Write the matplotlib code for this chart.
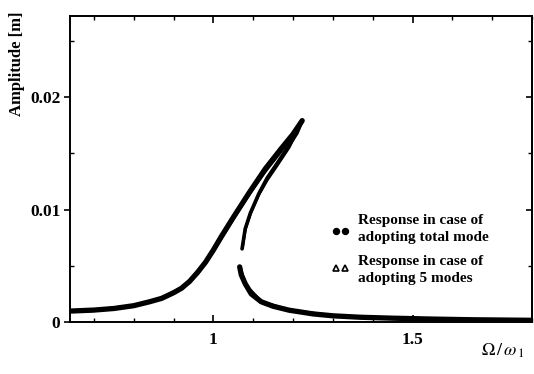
import matplotlib
matplotlib.use("Agg")
import matplotlib.pyplot as plt
from matplotlib.ticker import MultipleLocator, FixedLocator

# ---- data ----
# stable upper branch (total mode)
up_x = [0.64, 0.70, 0.75, 0.80, 0.84, 0.87, 0.90, 0.92, 0.94, 0.96, 0.98,
        1.00, 1.02, 1.05, 1.09, 1.13, 1.17, 1.20, 1.223]
up_y = [0.00097, 0.00106, 0.0012, 0.00145, 0.0018, 0.0021, 0.0026, 0.0030,
        0.0036, 0.0044, 0.0053, 0.0064, 0.0076, 0.0093, 0.0115, 0.0136,
        0.0154, 0.0167, 0.0179]
# unstable branch (total mode)
mid_x = [1.223, 1.21, 1.19, 1.16, 1.135, 1.114, 1.093, 1.08, 1.072]
mid_y = [0.0179, 0.0168, 0.0157, 0.0141, 0.0128, 0.0114, 0.0097, 0.0083, 0.0065]
# lower stable branch (total mode)
low_x = [1.066, 1.07, 1.08, 1.095, 1.12, 1.15, 1.19, 1.25, 1.30, 1.37,
         1.45, 1.55, 1.65, 1.80]
low_y = [0.0049, 0.0042, 0.0034, 0.0025, 0.0018, 0.0014, 0.00105, 0.00072,
         0.00055, 0.00042, 0.00034, 0.00026, 0.0002, 0.00015]

# 5 modes series (nearly identical)
up5_x = [0.64, 0.70, 0.80, 0.87, 0.92, 0.96, 1.00, 1.05, 1.09, 1.13, 1.17, 1.221]
up5_y = [0.00095, 0.00104, 0.00143, 0.0021, 0.0030, 0.0043, 0.0063, 0.0092,
         0.0114, 0.0134, 0.0152, 0.0177]
mid5_x = [1.221, 1.19, 1.16, 1.135, 1.114, 1.093, 1.08, 1.073]
mid5_y = [0.0177, 0.0155, 0.0139, 0.0126, 0.0113, 0.0096, 0.0082, 0.0066]
low5_x = [1.067, 1.08, 1.12, 1.19, 1.30, 1.45, 1.65, 1.80]
low5_y = [0.0048, 0.0033, 0.0018, 0.00104, 0.00054, 0.00033, 0.0002, 0.00015]

xlim = (0.64, 1.80)
ylim = (0.0, 0.0272)
x_major = [1.0, 1.5]
x_labels = ["1", "1.5"]
y_major = [0.0, 0.01, 0.02]
y_labels = ["0", "0.01", "0.02"]

legend_lines = [["Response in case of", "adopting total mode"],
                ["Response in case of", "adopting 5 modes"]]

SERIF = ["Liberation Serif", "DejaVu Serif"]
plt.rcParams["mathtext.fontset"] = "stix"

fig = plt.figure(figsize=(5.34, 3.74), dpi=100)
ax = fig.add_axes([70/534, 1-322/374, 462/534, 306/374])

ax.plot(up_x, up_y, color="black", lw=3.8, solid_capstyle="round", solid_joinstyle="round")
ax.plot(mid_x, mid_y, color="black", lw=2.6, solid_capstyle="round", solid_joinstyle="round")
ax.plot(low_x, low_y, color="black", lw=3.8, solid_capstyle="round", solid_joinstyle="round")
ax.plot(up5_x, up5_y, color="black", lw=2.5, solid_joinstyle="round")
ax.plot(mid5_x, mid5_y, color="black", lw=2.0, solid_joinstyle="round")
ax.plot(low5_x, low5_y, color="black", lw=2.5, solid_joinstyle="round")

ax.set_xlim(*xlim)
ax.set_ylim(*ylim)

ax.xaxis.set_major_locator(FixedLocator(x_major))
ax.set_xticklabels(x_labels)
ax.xaxis.set_minor_locator(MultipleLocator(0.1))
ax.yaxis.set_major_locator(FixedLocator(y_major))
ax.set_yticklabels(y_labels)
ax.yaxis.set_minor_locator(MultipleLocator(0.005))

ax.tick_params(axis="x", which="both", direction="in", top=True, bottom=True)
ax.tick_params(axis="x", which="major", length=5, width=1.2, pad=7)
ax.tick_params(axis="x", which="minor", length=3, width=1.0)
ax.tick_params(axis="y", which="major", direction="out", length=4, width=1.2, pad=3, right=False)
ax.tick_params(axis="y", which="minor", direction="in", length=3, width=1.0, right=False)

sec = ax.secondary_yaxis("right")
sec.yaxis.set_major_locator(FixedLocator(y_major))
sec.yaxis.set_minor_locator(MultipleLocator(0.005))
sec.tick_params(which="both", direction="in", labelright=False)
sec.tick_params(which="major", length=4, width=1.2)
sec.tick_params(which="minor", length=3, width=1.0)
sec.spines["right"].set_linewidth(1.4)

for lab in ax.get_xticklabels() + ax.get_yticklabels():
    lab.set_fontfamily(SERIF)
    lab.set_fontweight("bold")
    lab.set_fontsize(12.5)

for s in ax.spines.values():
    s.set_linewidth(1.4)

# legend drawn manually
mk_x = [0.576, 0.596]
ax.plot(mk_x, [0.297, 0.297], ls="none", marker="o", ms=4.3, color="black",
        transform=ax.transAxes, clip_on=False)
ax.plot(mk_x, [0.176, 0.176], ls="none", marker="^", ms=5, mfc="white",
        mec="black", mew=1.2, transform=ax.transAxes, clip_on=False)
for (l1, l2), yc in zip(legend_lines, [0.303, 0.169]):
    ax.text(0.623, yc + 0.028, l1, transform=ax.transAxes, ha="left", va="center",
            fontsize=11, fontweight="bold", family=SERIF)
    ax.text(0.623, yc - 0.028, l2, transform=ax.transAxes, ha="left", va="center",
            fontsize=11, fontweight="bold", family=SERIF)

fig.text(17/534, 1-64/374, "Amplitude [m]", rotation=90, ha="center", va="center",
         fontsize=12, fontweight="bold", family=SERIF)
fig.text(503/534, 1-351/374, r"$\Omega\,/\,\omega_{\,1}$", ha="center", va="center",
         fontsize=13)

fig.savefig("out.png", dpi=100)
